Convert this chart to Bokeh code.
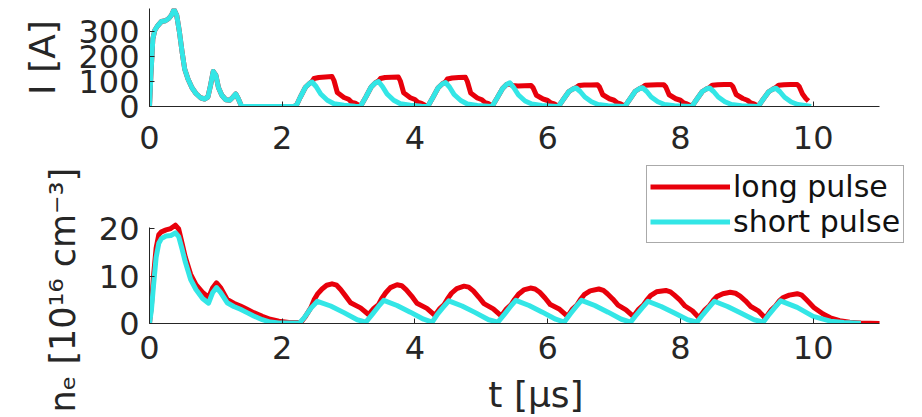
from bokeh.plotting import figure
from bokeh.layouts import column
from bokeh.models import Range1d, FixedTicker, Legend, LegendItem, Title
from bokeh.embed import file_html
from bokeh.resources import INLINE

# ---------------- data ----------------
x_ticks = [0, 2, 4, 6, 8, 10]
I_ticks = [0, 100, 200, 300]
ne_ticks = [0, 10, 20]
series_names = ["long pulse", "short pulse"]

# discharge current I [A]
I_t_short = [0.00, 0.02, 0.05, 0.08, 0.12, 0.18, 0.24, 0.29, 0.33, 0.37, 0.41, 0.45, 0.49, 0.53, 0.58,
             0.64, 0.70, 0.77, 0.83, 0.88, 0.92, 0.96, 1.00, 1.04, 1.09, 1.15, 1.21, 1.26, 1.30, 1.34,
             1.38, 1.45, 2.18,
             2.22, 2.27, 2.35, 2.41, 2.45, 2.51, 2.58, 2.68, 2.78, 2.93, 3.10, 3.18,
             3.20, 3.26, 3.34, 3.40, 3.45, 3.51, 3.58, 3.68, 3.78, 3.93, 4.10, 4.19,
             4.21, 4.27, 4.35, 4.41, 4.46, 4.52, 4.59, 4.69, 4.79, 4.94, 5.10, 5.16,
             5.18, 5.24, 5.32, 5.38, 5.43, 5.49, 5.56, 5.66, 5.76, 5.91, 6.08, 6.16,
             6.18, 6.24, 6.32, 6.38, 6.43, 6.49, 6.56, 6.66, 6.76, 6.91, 7.08, 7.16,
             7.18, 7.24, 7.32, 7.38, 7.43, 7.49, 7.56, 7.66, 7.76, 7.91, 8.08, 8.17,
             8.19, 8.25, 8.33, 8.39, 8.44, 8.50, 8.57, 8.67, 8.77, 8.92, 9.09, 9.17,
             9.19, 9.25, 9.33, 9.39, 9.44, 9.50, 9.57, 9.67, 9.77, 9.90, 9.97]
I_short = [0, 120, 270, 305, 322, 340, 343, 352, 365, 388, 365, 300, 220, 150, 110,
           75, 52, 35, 30, 38, 85, 140, 125, 75, 45, 27, 25, 38, 50, 30,
           5, 0, 0,
           8, 36, 77, 92, 98, 80, 50, 25, 11, 5, 1, 0,
           10, 38, 78, 94, 100, 80, 50, 25, 11, 5, 1, 0,
           8, 36, 75, 90, 96, 78, 48, 24, 10, 4, 1, 0,
           8, 35, 72, 88, 95, 75, 46, 22, 10, 4, 1, 0,
           7, 30, 60, 70, 74, 60, 38, 19, 8, 3, 1, 0,
           7, 30, 61, 71, 75, 61, 38, 19, 8, 3, 1, 0,
           7, 30, 60, 70, 74, 60, 38, 19, 8, 3, 1, 0,
           7, 30, 59, 69, 73, 59, 37, 18, 8, 3, 0]

I_t_long = [0.00, 0.02, 0.05, 0.08, 0.12, 0.18, 0.24, 0.29, 0.33, 0.37, 0.41, 0.45, 0.49, 0.53, 0.58,
            0.64, 0.70, 0.77, 0.83, 0.88, 0.92, 0.96, 1.00, 1.04, 1.09, 1.15, 1.21, 1.26, 1.30, 1.34,
            1.38, 1.45, 2.18,
            2.22, 2.27, 2.35, 2.41, 2.45, 2.48, 2.55, 2.65, 2.75, 2.78, 2.83, 2.93, 3.00, 3.05, 3.10, 3.15, 3.18,
            3.20, 3.26, 3.34, 3.40, 3.45, 3.48, 3.55, 3.65, 3.75, 3.78, 3.83, 3.93, 4.00, 4.05, 4.10, 4.15, 4.19,
            4.21, 4.27, 4.35, 4.41, 4.46, 4.49, 4.56, 4.66, 4.76, 4.79, 4.84, 4.94, 5.01, 5.06, 5.11, 5.14, 5.16,
            5.18, 5.24, 5.32, 5.38, 5.43, 5.47, 5.55, 5.65, 5.75, 5.78, 5.83, 5.93, 6.00, 6.05, 6.10, 6.14, 6.16,
            6.18, 6.24, 6.32, 6.38, 6.43, 6.47, 6.55, 6.65, 6.75, 6.78, 6.83, 6.93, 7.00, 7.05, 7.10, 7.14, 7.16,
            7.18, 7.24, 7.32, 7.38, 7.43, 7.47, 7.55, 7.65, 7.75, 7.78, 7.83, 7.93, 8.00, 8.05, 8.10, 8.15, 8.17,
            8.19, 8.25, 8.33, 8.39, 8.44, 8.48, 8.56, 8.66, 8.76, 8.79, 8.84, 8.94, 9.01, 9.06, 9.11, 9.15, 9.17,
            9.19, 9.25, 9.33, 9.39, 9.44, 9.48, 9.56, 9.66, 9.76, 9.79, 9.84, 9.89, 9.93]
I_long = [0, 120, 270, 305, 322, 340, 343, 352, 365, 388, 365, 300, 220, 150, 110,
          75, 52, 35, 30, 38, 85, 140, 125, 75, 45, 27, 25, 38, 50, 30,
          5, 0, 0,
          8, 36, 77, 92, 100, 112, 116, 118, 120, 104, 56, 36, 29, 16, 13, 5, 0,
          10, 38, 78, 94, 102, 112, 116, 117, 118, 102, 55, 35, 28, 16, 12, 5, 0,
          8, 36, 75, 90, 98, 110, 114, 116, 117, 100, 54, 34, 27, 15, 11, 4, 0,
          8, 35, 72, 88, 90, 84, 82, 83, 84, 75, 45, 30, 24, 14, 10, 4, 0,
          7, 30, 60, 70, 76, 84, 86, 86, 87, 78, 47, 31, 25, 14, 10, 4, 0,
          7, 30, 61, 71, 77, 85, 86, 87, 87, 78, 47, 31, 25, 14, 10, 4, 0,
          7, 30, 60, 70, 76, 85, 87, 88, 88, 80, 48, 32, 25, 14, 10, 4, 0,
          7, 30, 59, 69, 76, 85, 87, 88, 88, 80, 50, 32, 22]

# electron density n_e [1e16 cm^-3]
ne_t_long = [0.00, 0.03, 0.06, 0.10, 0.14, 0.18, 0.25, 0.32, 0.39, 0.44, 0.49, 0.54, 0.62, 0.70, 0.80,
             0.89, 0.95, 1.01, 1.07, 1.17, 1.27, 1.37, 1.47, 1.57, 1.70, 1.82, 1.95, 2.10, 2.28,
             2.35, 2.43, 2.48, 2.53, 2.60, 2.67, 2.75, 2.82, 2.88, 2.95, 3.03, 3.18, 3.30,
             3.38, 3.45, 3.50, 3.56, 3.63, 3.73, 3.80, 3.87, 3.95, 4.03, 4.18, 4.30,
             4.37, 4.44, 4.49, 4.55, 4.63, 4.74, 4.81, 4.88, 4.96, 5.04, 5.18, 5.30,
             5.38, 5.45, 5.50, 5.56, 5.64, 5.74, 5.81, 5.88, 5.96, 6.04, 6.18, 6.30,
             6.37, 6.44, 6.49, 6.55, 6.64, 6.77, 6.84, 6.90, 6.98, 7.06, 7.18, 7.29,
             7.37, 7.44, 7.49, 7.55, 7.64, 7.78, 7.85, 7.91, 7.99, 8.07, 8.18, 8.28,
             8.37, 8.44, 8.49, 8.55, 8.64, 8.75, 8.83, 8.90, 8.98, 9.06, 9.18, 9.28,
             9.37, 9.44, 9.49, 9.55, 9.64, 9.76, 9.83, 9.90, 10.01, 10.15, 10.26, 10.40, 10.55, 10.72, 11.00]
ne_long = [0, 4, 10, 16, 18.8, 19.4, 19.8, 20.1, 20.8, 20.0, 17.0, 14.0, 10.4, 8.2, 6.6,
           5.5, 7.5, 8.6, 7.6, 5.1, 4.3, 3.7, 3.0, 2.3, 1.5, 0.9, 0.5, 0.2, 0.2,
           1.5, 3.3, 5.0, 6.2, 7.3, 8.1, 8.4, 8.1, 7.2, 5.9, 4.4, 3.3, 1.9,
           3.2, 4.0, 5.3, 6.5, 7.6, 8.2, 8.0, 7.1, 5.8, 4.3, 3.2, 1.7,
           3.1, 4.0, 5.2, 6.4, 7.4, 7.9, 7.7, 6.9, 5.6, 4.2, 3.1, 1.6,
           3.1, 4.0, 5.1, 6.2, 7.1, 7.5, 7.3, 6.6, 5.4, 4.0, 3.0, 1.5,
           3.0, 3.9, 5.0, 6.1, 6.9, 7.3, 7.0, 6.3, 5.2, 3.9, 2.9, 1.5,
           3.0, 3.9, 4.9, 5.9, 6.7, 7.0, 6.7, 6.0, 5.0, 3.7, 2.7, 1.2,
           2.9, 3.8, 4.8, 5.7, 6.3, 6.6, 6.4, 5.8, 4.8, 3.6, 2.6, 1.1,
           2.9, 3.8, 4.8, 5.5, 6.0, 6.3, 6.0, 5.0, 3.4, 2.0, 1.2, 0.6, 0.25, 0.1, 0.0]

ne_t_short = [0.00, 0.03, 0.06, 0.10, 0.14, 0.18, 0.25, 0.32, 0.39, 0.44, 0.49, 0.54, 0.62, 0.70, 0.80,
              0.89, 0.95, 1.01, 1.07, 1.17, 1.27, 1.37, 1.47, 1.57, 1.70, 1.82, 1.95, 2.26,
              2.33, 2.43, 2.53, 2.73, 2.93, 3.13, 3.26,
              3.36, 3.45, 3.53, 3.73, 3.93, 4.13, 4.26,
              4.34, 4.43, 4.51, 4.71, 4.91, 5.11, 5.25,
              5.35, 5.44, 5.52, 5.72, 5.92, 6.12, 6.25,
              6.34, 6.43, 6.51, 6.71, 6.91, 7.11, 7.25,
              7.34, 7.43, 7.51, 7.71, 7.91, 8.11, 8.25,
              8.34, 8.43, 8.51, 8.71, 8.91, 9.11, 9.25,
              9.34, 9.43, 9.51, 9.76, 10.00, 10.26, 10.46, 10.72]
ne_short = [0, 3, 8, 14, 17, 18.0, 18.5, 18.6, 19.2, 18.4, 15.8, 13.0, 9.3, 7.2, 5.3,
            4.3, 6.5, 7.6, 6.6, 4.4, 3.6, 3.0, 2.3, 1.6, 0.8, 0.3, 0.1, 0.1,
            1.2, 3.2, 4.7, 3.7, 2.3, 0.8, 0.3,
            2.0, 3.6, 4.9, 3.8, 2.4, 0.9, 0.3,
            2.0, 3.5, 4.8, 3.7, 2.3, 0.8, 0.3,
            2.0, 3.6, 4.9, 3.8, 2.4, 0.9, 0.3,
            2.0, 3.6, 4.9, 3.8, 2.4, 0.9, 0.3,
            1.9, 3.4, 4.7, 3.6, 2.2, 0.8, 0.3,
            1.9, 3.4, 4.7, 3.6, 2.2, 0.8, 0.3,
            2.0, 3.5, 4.8, 3.4, 1.5, 0.5, 0.2, 0.05]

# ---------------- style / layout ----------------
FONT = "DejaVu Sans"
AX = "#262626"
RED = "#e8000b"
CYAN = "#33e6e6"
W = 922
FL, FR = 149, 879          # where t=0 and t=11 sit (px)
X_MAX = 11
I_MAX = 392
NE_MAX = 20.4
TICK_FS = "32px"
LAB_FS = "36px"

P1_H = 160
P2_TOP_FRAME = 162          # page px of the bottom frame top (legend lives inside it)
P2_AXIS_TOP = 227           # page px where n_e = NE_MAX
P2_BOTTOM = 324             # page px where n_e = 0
NE_TOP = NE_MAX * (P2_BOTTOM - P2_TOP_FRAME) / (P2_BOTTOM - P2_AXIS_TOP)
X_RIGHT = X_MAX * (W - FL) / (FR - FL)


def style_axes(p):
    for ax in p.axis:
        ax.axis_line_color = AX
        ax.axis_line_width = 1
        ax.major_tick_line_color = AX
        ax.major_tick_in = 5
        ax.major_tick_out = 0
        ax.minor_tick_line_color = None
        ax.major_label_text_font = FONT
        ax.major_label_text_font_size = TICK_FS
        ax.major_label_text_color = AX
        ax.axis_label_text_font = FONT
        ax.axis_label_text_font_size = LAB_FS
        ax.axis_label_text_font_style = "normal"
        ax.axis_label_text_color = AX
    p.grid.visible = False
    p.outline_line_color = None
    p.background_fill_color = "white"
    p.border_fill_color = "white"


# ---------------- top: current ----------------
p1 = figure(width=W, height=P1_H, x_range=Range1d(0, X_MAX), y_range=Range1d(0, I_MAX),
            output_backend="svg", toolbar_location=None, frame_align=False,
            min_border_left=FL, min_border_right=W - FR, min_border_top=8,
            min_border_bottom=P1_H - 106)
p1.line(I_t_long, I_long, line_color=RED, line_width=5, line_join="round")
p1.line(I_t_short, I_short, line_color=CYAN, line_width=5, line_join="round")
style_axes(p1)
p1.xaxis.ticker = FixedTicker(ticks=x_ticks)
p1.xaxis.major_label_standoff = 19
p1.yaxis.ticker = FixedTicker(ticks=I_ticks)
p1.yaxis.major_label_standoff = 10
p1.yaxis.axis_label = "I [A]"
p1.yaxis.axis_label_standoff = 12

# ---------------- bottom: electron density ----------------
P2_H = 417 - P1_H
p2 = figure(width=W, height=P2_H, x_range=Range1d(0, X_RIGHT), y_range=Range1d(0, NE_TOP),
            output_backend="svg", toolbar_location=None, frame_align=False,
            min_border_left=FL, min_border_right=0, min_border_top=P2_TOP_FRAME - P1_H,
            min_border_bottom=417 - P2_BOTTOM)
r_long = p2.line(ne_t_long, ne_long, line_color=RED, line_width=5, line_join="round")
r_short = p2.line(ne_t_short, ne_short, line_color=CYAN, line_width=5, line_join="round")
style_axes(p2)
p2.xaxis.ticker = FixedTicker(ticks=x_ticks)
p2.xaxis.bounds = (0, X_MAX)
p2.xaxis.major_label_standoff = 12
p2.xaxis.axis_label = "t [\u03bcs]"
p2.xaxis.axis_label_standoff = 12
p2.yaxis.ticker = FixedTicker(ticks=ne_ticks)
p2.yaxis.bounds = (0, NE_MAX)
p2.yaxis.major_label_standoff = 10

# y title of the lower panel, anchored at its start (bottom) so it runs from y~413 upwards
ne_title = Title(text="n\u2091 [10\u00b9\u2076 cm\u207b\u00b3]", align="left",
                 offset=-(413 - P2_BOTTOM), text_font=FONT, text_font_size="35px",
                 text_font_style="normal", text_color=AX, standoff=26)
p2.add_layout(ne_title, "left")

legend = Legend(items=[LegendItem(label=series_names[0], renderers=[r_long]),
                       LegendItem(label=series_names[1], renderers=[r_short])],
                location=(646 - FL, P2_BOTTOM - 244), margin=0, padding=3, spacing=0,
                glyph_width=80, glyph_height=35, label_height=35, label_standoff=3,
                label_text_font=FONT, label_text_font_size="30px", label_text_color="#111111",
                border_line_color="#555555", border_line_width=1,
                background_fill_color="white", background_fill_alpha=1)
p2.add_layout(legend)

layout = column(p1, p2, spacing=0)
open("out.html", "w").write(file_html(layout, INLINE, title="pulses"))
